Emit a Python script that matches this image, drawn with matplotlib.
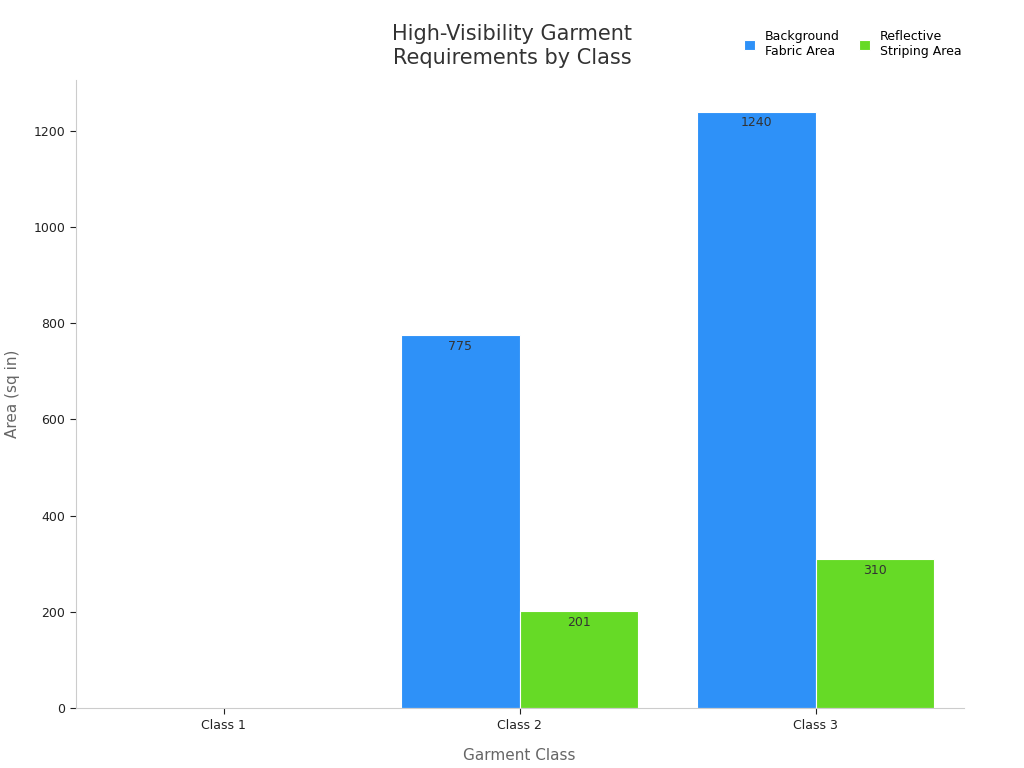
import matplotlib
matplotlib.use("Agg")
import matplotlib.pyplot as plt
import numpy as np

# Data
classes = ["Class 1", "Class 2", "Class 3"]
background_area = [0, 775, 1240]
striping_area = [0, 201, 310]
series_names = ["Background\nFabric Area", "Reflective\nStriping Area"]
colours = ["#2E91F8", "#66DA26"]

fig = plt.figure(figsize=(10.24, 7.68), dpi=100)
ax = fig.add_axes([0.074, 0.078, 0.867, 0.818])

x = np.arange(len(classes))
width = 0.4
for i, (vals, name) in enumerate(zip([background_area, striping_area], series_names)):
    offs = x + (i - 0.5) * width
    bars = ax.bar(offs, vals, width, color=colours[i], edgecolor="white",
                  linewidth=0.8, label=name)
    for b, v in zip(bars, vals):
        if v > 0:
            ax.text(b.get_x() + b.get_width() / 2, v - 10, f"{v}",
                    ha="center", va="top", fontsize=9, color="#333333")

ax.set_xlim(-0.5, 2.5)
ax.set_ylim(0, 1306)
ax.set_xticks(x)
ax.set_xticklabels(classes, fontsize=9)
ax.set_yticks(range(0, 1201, 200))
ax.tick_params(axis="y", labelsize=9, colors="#222222", length=4)
ax.tick_params(axis="x", colors="#222222", length=4)
for s in ["top", "right"]:
    ax.spines[s].set_visible(False)
for s in ["left", "bottom"]:
    ax.spines[s].set_color("#cccccc")
ax.set_xlabel("Garment Class", fontsize=11, color="#666666", labelpad=12)
ax.set_ylabel("Area (sq in)", fontsize=11, color="#666666", labelpad=10)

fig.text(0.5, 0.94, "High-Visibility Garment\nRequirements by Class",
         ha="center", va="center", fontsize=15, color="#333333")
fig.legend(loc="upper right", bbox_to_anchor=(0.95, 0.975), ncol=2,
           frameon=False, fontsize=9, handlelength=0.9, handleheight=0.9,
           columnspacing=1.5)

fig.savefig("out.png", dpi=100)
